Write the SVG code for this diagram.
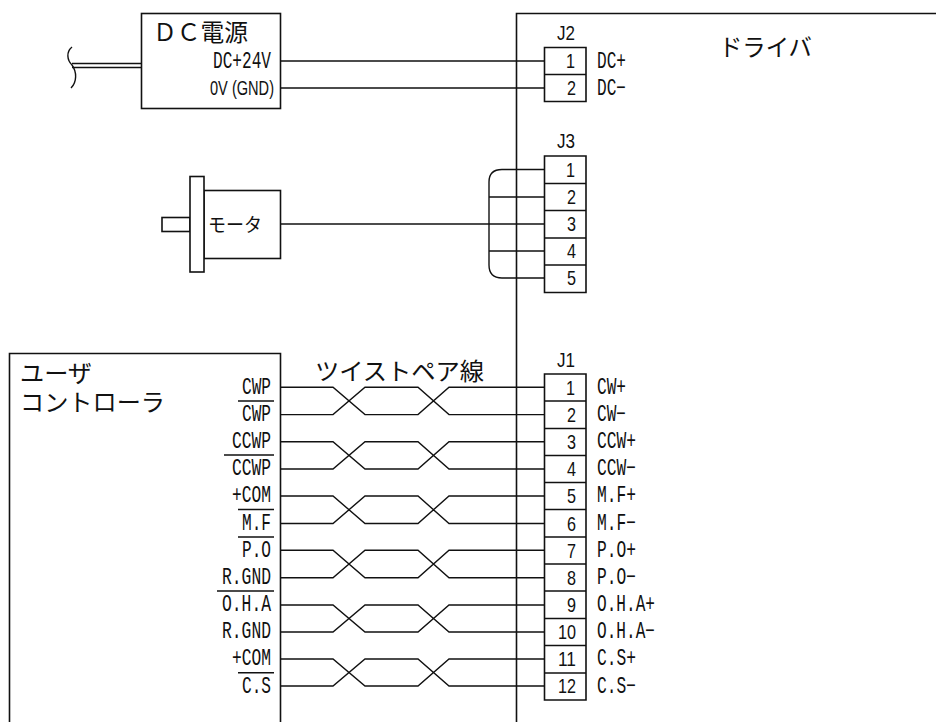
<svg xmlns="http://www.w3.org/2000/svg" width="936" height="722" viewBox="0 0 936 722">
<style>
.s{fill:none;stroke:#111;stroke-width:1.6}
.b{fill:#fff;stroke:#111;stroke-width:1.6}
.w{fill:none;stroke:#111;stroke-width:1.4}
.m{font-family:"Liberation Mono",monospace;font-size:23px;fill:#111}
.n{font-family:"Liberation Sans",sans-serif;font-size:21px;fill:#111}
.r{text-anchor:end}
.j{font-family:"Noto Sans CJK JP",sans-serif;font-size:24px;fill:#111}
</style>
<rect width="936" height="722" fill="#fff"/>
<g id="driver"><path class="s" d="M936 13.500H516.500V722"/><text class="j" x="719" y="56" textLength="93" lengthAdjust="spacingAndGlyphs">ドライバ</text></g>
<g id="connectors">
<path class="w" d="M280 61H544M280 88H544"/>
<path class="w" d="M141 63.500H72M141 67.500H72"/>
<path class="w" d="M72 47C66 52 67 60 72 65C77 72 77 82 71 88"/>
<path class="w" d="M280 224H544"/>
<path class="w" d="M544 169.500H502Q489 169.500 489 182V265Q489 278 502 278H544M489 197H544M489 251H544"/>
<path class="w" d="M280 387.300H333L365 414.600H418L449 387.300H544M280 414.600H333L365 387.300H418L449 414.600H544"/>
<path class="w" d="M280 441.800H333L365 469H418L449 441.800H544M280 469H333L365 441.800H418L449 469H544"/>
<path class="w" d="M280 496H333L365 523.500H418L449 496H544M280 523.500H333L365 496H418L449 523.500H544"/>
<path class="w" d="M280 550.300H333L365 577.700H418L449 550.300H544M280 577.700H333L365 550.300H418L449 577.700H544"/>
<path class="w" d="M280 605H333L365 632H418L449 605H544M280 632H333L365 605H418L449 632H544"/>
<path class="w" d="M280 659H333L365 686H418L449 659H544M280 686H333L365 659H418L449 686H544"/>
</g>
<g id="dc-power"><rect class="b" x="141.500" y="13.500" width="139" height="95"/>
<text class="j" x="153" y="41" textLength="95" lengthAdjust="spacingAndGlyphs">ＤＣ電源</text>
<text class="m r" x="271" y="67.500" textLength="58" lengthAdjust="spacingAndGlyphs">DC+24V</text>
<text class="n r" x="274" y="94.500" textLength="64" lengthAdjust="spacingAndGlyphs">0V (GND)</text></g>
<g id="motor"><rect class="b" x="162" y="217.500" width="28" height="14"/><rect class="b" x="204" y="190.500" width="76.500" height="68"/><rect class="b" x="190" y="176.500" width="14" height="95.500"/>
<text class="j" x="208" y="232" style="font-size:19px" textLength="54" lengthAdjust="spacingAndGlyphs">モータ</text></g>
<g id="controller"><path class="b" d="M9.500 722V353.500H280.500V722"/>
<text class="j" x="20" y="382" textLength="72" lengthAdjust="spacingAndGlyphs">ユーザ</text>
<text class="j" x="20" y="411" textLength="145" lengthAdjust="spacingAndGlyphs">コントローラ</text>
<g>
<text class="m r" x="271" y="393.500" textLength="29" lengthAdjust="spacingAndGlyphs">CWP</text>
<text class="m r" x="271" y="421" textLength="29" lengthAdjust="spacingAndGlyphs">CWP</text>
<text class="m r" x="271" y="448" textLength="39" lengthAdjust="spacingAndGlyphs">CCWP</text>
<text class="m r" x="271" y="475" textLength="39" lengthAdjust="spacingAndGlyphs">CCWP</text>
<text class="m r" x="271" y="502" textLength="39" lengthAdjust="spacingAndGlyphs">+COM</text>
<text class="m r" x="271" y="530" textLength="29" lengthAdjust="spacingAndGlyphs">M.F</text>
<text class="m r" x="271" y="557" textLength="29" lengthAdjust="spacingAndGlyphs">P.O</text>
<text class="m r" x="271" y="584" textLength="49" lengthAdjust="spacingAndGlyphs">R.GND</text>
<text class="m r" x="271" y="611" textLength="49" lengthAdjust="spacingAndGlyphs">O.H.A</text>
<text class="m r" x="271" y="638" textLength="49" lengthAdjust="spacingAndGlyphs">R.GND</text>
<text class="m r" x="271" y="665" textLength="39" lengthAdjust="spacingAndGlyphs">+COM</text>
<text class="m r" x="271" y="692.500" textLength="29" lengthAdjust="spacingAndGlyphs">C.S</text>
</g>
<path class="s" d="M238 401H274M224 455H274M238 509.500H274M238 537H274M217 591H274M238 672.700H274"/></g>
<g id="twist-label"><text class="j" x="315" y="380" textLength="169" lengthAdjust="spacingAndGlyphs">ツイストペア線</text></g>
<g id="j2"><path class="b" d="M544.500 47.500H586V101.500H544.500Z"/><path class="s" d="M544.500 74.500H586"/>
<text class="n" x="557" y="40" textLength="18" lengthAdjust="spacingAndGlyphs">J2</text>
<text class="n r" x="575" y="68" textLength="9" lengthAdjust="spacingAndGlyphs">1</text>
<text class="n r" x="576" y="95" textLength="9" lengthAdjust="spacingAndGlyphs">2</text>
<text class="m" x="597" y="67.500" textLength="29" lengthAdjust="spacingAndGlyphs">DC+</text>
<text class="m" x="597" y="94.500" textLength="29" lengthAdjust="spacingAndGlyphs">DC−</text></g>
<g id="j3"><path class="b" d="M544.500 156H586V292.500H544.500Z"/><path class="s" d="M544.500 183.500H586M544.500 210.500H586M544.500 238H586M544.500 265H586"/>
<text class="n" x="557" y="148" textLength="18" lengthAdjust="spacingAndGlyphs">J3</text>
<text class="n r" x="575" y="177" textLength="9" lengthAdjust="spacingAndGlyphs">1</text>
<text class="n r" x="576" y="204" textLength="9" lengthAdjust="spacingAndGlyphs">2</text>
<text class="n r" x="576" y="231" textLength="9" lengthAdjust="spacingAndGlyphs">3</text>
<text class="n r" x="576" y="258" textLength="9" lengthAdjust="spacingAndGlyphs">4</text>
<text class="n r" x="576" y="285" textLength="9" lengthAdjust="spacingAndGlyphs">5</text></g>
<g id="j1"><path class="b" d="M544.500 374H586V700H544.500Z"/><path class="s" d="M544.500 401H586M544.500 428.500H586M544.500 455.500H586M544.500 482.500H586M544.500 509.500H586M544.500 537H586M544.500 564H586M544.500 591H586M544.500 618.500H586M544.500 645.500H586M544.500 673H586"/>
<text class="n" x="557" y="367" textLength="18" lengthAdjust="spacingAndGlyphs">J1</text>
<text class="n r" x="575" y="395" textLength="9" lengthAdjust="spacingAndGlyphs">1</text>
<text class="n r" x="576" y="422" textLength="9" lengthAdjust="spacingAndGlyphs">2</text>
<text class="n r" x="576" y="449" textLength="9" lengthAdjust="spacingAndGlyphs">3</text>
<text class="n r" x="576" y="476" textLength="9" lengthAdjust="spacingAndGlyphs">4</text>
<text class="n r" x="576" y="503" textLength="9" lengthAdjust="spacingAndGlyphs">5</text>
<text class="n r" x="576" y="531" textLength="9" lengthAdjust="spacingAndGlyphs">6</text>
<text class="n r" x="576" y="558" textLength="9" lengthAdjust="spacingAndGlyphs">7</text>
<text class="n r" x="576" y="585" textLength="9" lengthAdjust="spacingAndGlyphs">8</text>
<text class="n r" x="576" y="612" textLength="9" lengthAdjust="spacingAndGlyphs">9</text>
<text class="n r" x="576" y="639" textLength="18" lengthAdjust="spacingAndGlyphs">10</text>
<text class="n r" x="576" y="666" textLength="18" lengthAdjust="spacingAndGlyphs">11</text>
<text class="n r" x="576" y="693" textLength="18" lengthAdjust="spacingAndGlyphs">12</text>
<text class="m" x="597" y="394" textLength="29" lengthAdjust="spacingAndGlyphs">CW+</text>
<text class="m" x="597" y="421" textLength="29" lengthAdjust="spacingAndGlyphs">CW−</text>
<text class="m" x="597" y="448" textLength="39" lengthAdjust="spacingAndGlyphs">CCW+</text>
<text class="m" x="597" y="475" textLength="39" lengthAdjust="spacingAndGlyphs">CCW−</text>
<text class="m" x="597" y="502" textLength="39" lengthAdjust="spacingAndGlyphs">M.F+</text>
<text class="m" x="597" y="530" textLength="39" lengthAdjust="spacingAndGlyphs">M.F−</text>
<text class="m" x="597" y="557" textLength="39" lengthAdjust="spacingAndGlyphs">P.O+</text>
<text class="m" x="597" y="584" textLength="39" lengthAdjust="spacingAndGlyphs">P.O−</text>
<text class="m" x="597" y="611" textLength="58" lengthAdjust="spacingAndGlyphs">O.H.A+</text>
<text class="m" x="597" y="638" textLength="58" lengthAdjust="spacingAndGlyphs">O.H.A−</text>
<text class="m" x="597" y="665" textLength="39" lengthAdjust="spacingAndGlyphs">C.S+</text>
<text class="m" x="597" y="692.500" textLength="39" lengthAdjust="spacingAndGlyphs">C.S−</text></g>
</svg>
